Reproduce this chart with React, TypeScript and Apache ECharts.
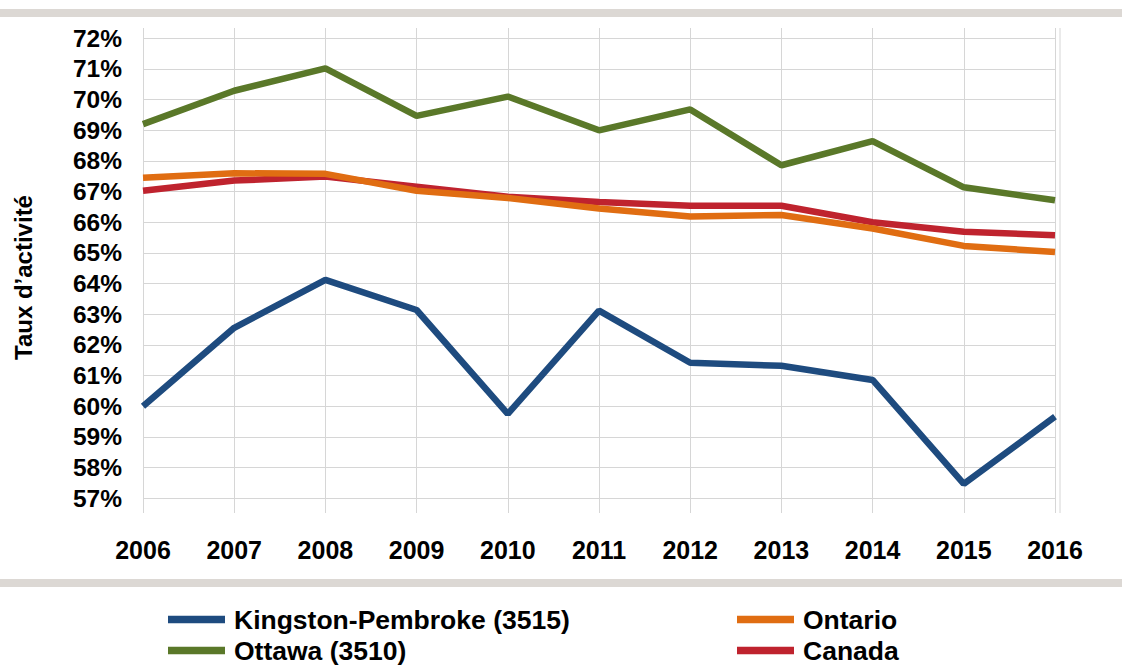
import React, { useEffect, useRef } from 'react';
import * as echarts from 'echarts';

const years = ['2006', '2007', '2008', '2009', '2010', '2011', '2012', '2013', '2014', '2015', '2016'];
const yMin = 57;
const yMax = 72;
const yStep = 1;

const kingston = [60.0, 62.56, 64.12, 63.14, 59.75, 63.12, 61.42, 61.32, 60.86, 57.47, 59.66];
const ottawa = [69.2, 70.29, 71.02, 69.47, 70.1, 69.0, 69.68, 67.86, 68.65, 67.14, 66.72];
const ontario = [67.45, 67.6, 67.58, 67.03, 66.79, 66.45, 66.19, 66.24, 65.8, 65.23, 65.03];
const canada = [67.03, 67.36, 67.49, 67.16, 66.83, 66.66, 66.54, 66.54, 66.0, 65.69, 65.58];

const names = ['Kingston-Pembroke (3515)', 'Ottawa (3510)', 'Ontario', 'Canada'];
const colors = ['#1e4b7f', '#5a7829', '#e06d12', '#bf232e'];

const font = '"Liberation Sans", Arial, Helvetica, sans-serif';
const gridColor = '#d6d6d6';

export default function App() {
  const ref = useRef<HTMLDivElement>(null);
  useEffect(() => {
    document.body.style.margin = '0';
    const chart = echarts.init(ref.current!, null, { renderer: 'svg' });
    const mk = (i: number, data: number[], z: number) => ({
      name: names[i],
      type: 'line',
      xAxisIndex: 0,
      yAxisIndex: 0,
      data,
      symbol: 'none',
      showSymbol: false,
      z,
      lineStyle: { width: 6.5, color: colors[i] },
      itemStyle: { color: colors[i] },
      emphasis: { disabled: true },
    });
    const legendText = {
      fontSize: 26.5,
      fontWeight: 'bold',
      color: '#000',
      fontFamily: font,
      lineHeight: 22,
      padding: [0, 0, 0, 4],
    };
    const lg = (name: string, left: number, top: number) => ({
      data: [name],
      orient: 'horizontal',
      left,
      top,
      padding: 0,
      itemWidth: 57,
      itemHeight: 7.5,
      icon: 'rect',
      selectedMode: false,
      textStyle: legendText,
    });
    chart.setOption({
      animation: false,
      backgroundColor: '#ffffff',
      textStyle: { fontFamily: font },
      grid: [
        { left: 143, right: 67, top: 38.3, bottom: 167.7 },
        { left: 143, right: 67, top: 28, bottom: 153 },
      ],
      xAxis: [
        {
          gridIndex: 0,
          type: 'category',
          data: years,
          boundaryGap: false,
          axisLine: { show: false },
          axisTick: { show: false },
          splitLine: { show: false },
          axisLabel: {
            fontSize: 25,
            fontWeight: 'bold',
            color: '#000',
            margin: 39,
            lineHeight: 25,
            fontFamily: font,
          },
        },
        {
          gridIndex: 1,
          type: 'category',
          data: years,
          boundaryGap: false,
          axisLine: { show: false },
          axisTick: { show: false },
          axisLabel: { show: false },
          splitLine: { show: true, lineStyle: { color: gridColor, width: 1 } },
        },
      ],
      yAxis: [
        {
          gridIndex: 0,
          type: 'value',
          min: yMin,
          max: yMax,
          interval: yStep,
          axisLine: { show: false },
          axisTick: { show: false },
          axisLabel: {
            formatter: '{value}%',
            fontSize: 24.5,
            fontWeight: 'bold',
            color: '#000',
            margin: 21,
            padding: [10, 0, 0, 0],
            fontFamily: font,
          },
          splitLine: { show: true, lineStyle: { color: gridColor, width: 1 } },
        },
        {
          gridIndex: 1,
          type: 'value',
          show: false,
          min: yMin,
          max: yMax,
          splitLine: { show: false },
        },
      ],
      legend: [
        lg(names[0], 168, 606),
        lg(names[1], 168, 637),
        lg(names[2], 737, 606),
        lg(names[3], 737, 637),
      ],
      graphic: [
        { type: 'rect', shape: { x: 0, y: 9, width: 1122, height: 8 }, style: { fill: '#dcd8d4' }, silent: true },
        { type: 'rect', shape: { x: 0, y: 579, width: 1122, height: 8 }, style: { fill: '#dcd8d4' }, silent: true },
        { type: 'line', shape: { x1: 1060, y1: 28, x2: 1060, y2: 513 }, style: { stroke: gridColor, lineWidth: 1 }, silent: true },
        {
          type: 'text',
          x: 23,
          y: 277.5,
          rotation: Math.PI / 2,
          style: {
            text: 'Taux d’activité',
            fontSize: 24,
            fontWeight: 'bold',
            fill: '#000',
            align: 'center',
            verticalAlign: 'middle',
            fontFamily: font,
          },
          silent: true,
        },
      ],
      series: [mk(0, kingston, 3), mk(1, ottawa, 3), mk(3, canada, 3), mk(2, ontario, 4)],
    });
    return () => chart.dispose();
  }, []);
  return <div ref={ref} style={{ width: 1122, height: 666 }} />;
}
